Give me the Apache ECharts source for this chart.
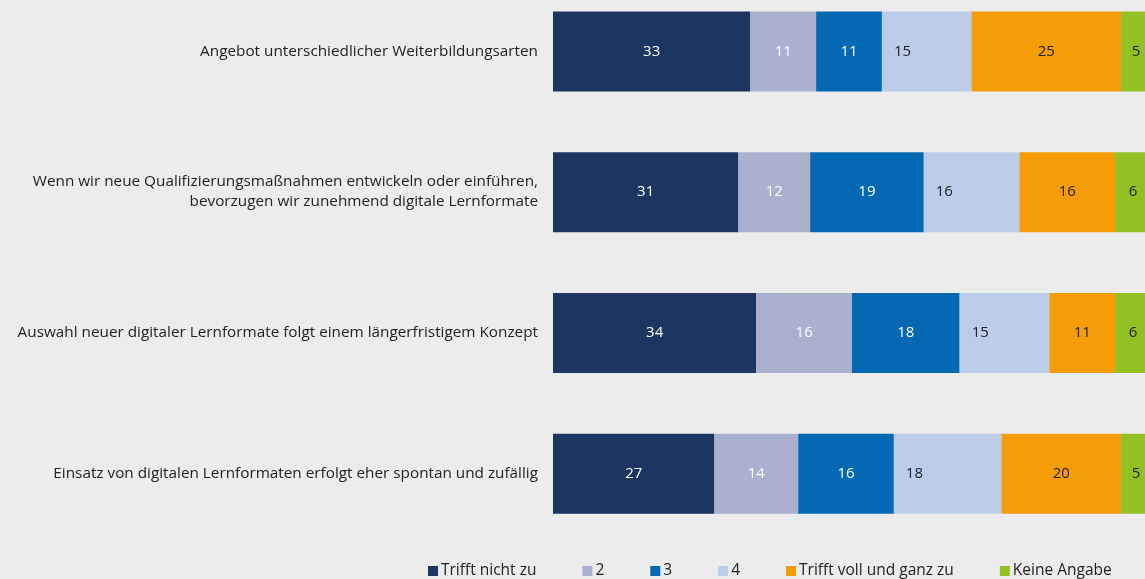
<!DOCTYPE html>
<html>
<head>
<meta charset="utf-8">
<script src="https://cdn.jsdelivr.net/npm/echarts@6/dist/echarts.min.js"></script>
<style>
  html, body { margin: 0; padding: 0; background: #ececec; }
  #main { width: 1145px; height: 579px; }
</style>
</head>
<body>
<div id="main"></div>
<script>
var myChart = echarts.init(document.getElementById('main'));

// categories, top to bottom
var categories = [
  'Angebot unterschiedlicher Weiterbildungsarten',
  'Wenn wir neue Qualifizierungsmaßnahmen entwickeln oder einführen,\nbevorzugen wir zunehmend digitale Lernformate',
  'Auswahl neuer digitaler Lernformate folgt einem längerfristigem Konzept',
  'Einsatz von digitalen Lernformaten erfolgt eher spontan und zufällig'
];

var seriesNames = ['Trifft nicht zu', '2', '3', '4', 'Trifft voll und ganz zu', 'Keine Angabe'];

var triffNicht = [33, 31, 34, 27];
var stufe2 = [11, 12, 16, 14];
var stufe3 = [11, 19, 18, 16];
var stufe4 = [15, 16, 15, 18];
var triffVoll = [25, 16, 11, 20];
var keineAngabe = [5, 6, 6, 5];

var values = [triffNicht, stufe2, stufe3, stufe4, triffVoll, keineAngabe];
var colors = ['#1c3661', '#aab1cf', '#0568b3', '#bccdea', '#f59c09', '#93c123'];
var labelColors = ['#ffffff', '#ffffff', '#ffffff', '#222222', '#222222', '#222222'];

var fontFamily = 'Open Sans';

var series = seriesNames.map(function (name, i) {
  return {
    name: name,
    type: 'bar',
    stack: 'total',
    barWidth: 80,
    data: values[i],
    itemStyle: { color: colors[i] },
    label: {
      show: true,
      position: i === 3 ? 'insideLeft' : 'inside',
      distance: 12,
      color: labelColors[i],
      fontSize: 15,
      fontFamily: fontFamily
    }
  };
});

var option = {
  backgroundColor: '#ececec',
  animation: false,
  grid: {
    left: 553,
    top: -19,
    width: 598,
    height: 563,
    outerBoundsMode: 'none'
  },
  legend: {
    left: 428,
    top: 563,
    padding: 0,
    itemWidth: 10,
    itemHeight: 10,
    itemGap: 46,
    icon: 'rect',
    textStyle: { fontSize: 15.5, color: '#222', fontFamily: fontFamily, padding: [0, 0, 0, -2] },
    data: seriesNames
  },
  xAxis: {
    type: 'value',
    min: 0,
    max: 100,
    show: false
  },
  yAxis: {
    type: 'category',
    inverse: true,
    data: categories,
    axisLine: { show: false },
    axisTick: { show: false },
    axisLabel: {
      margin: 15,
      fontSize: 15.3,
      color: '#222',
      lineHeight: 20,
      fontFamily: fontFamily
    }
  },
  series: series
};
myChart.setOption(option);
</script>
</body>
</html>
